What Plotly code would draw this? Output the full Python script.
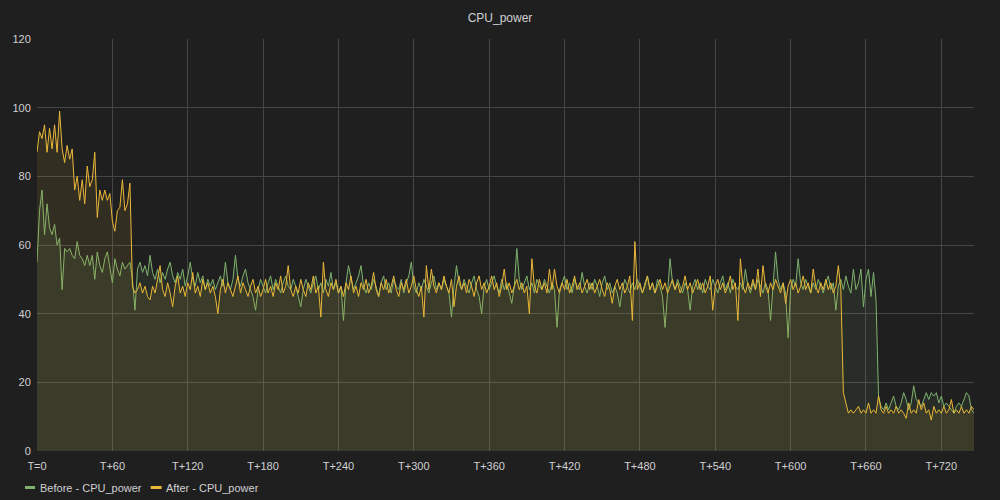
import plotly.graph_objects as go

# time axis: one sample every 2 s, T=0 .. T+746
t = list(range(0, 748, 2))

before = [
    55, 70, 76, 63, 72, 65, 63, 66, 60, 62,
    47, 59, 58, 59, 57, 56, 61, 57, 56, 54,
    57, 54, 57, 50, 58, 54, 52, 56, 58, 53,
    49, 56, 53, 51, 55, 53, 54, 55, 50, 41,
    53, 55, 52, 54, 51, 57, 52, 50, 53, 49,
    52, 50, 53, 55, 51, 49, 52, 50, 53, 48,
    51, 55, 50, 48, 52, 49, 51, 47, 50, 48,
    50, 47, 49, 51, 48, 55, 49, 47, 50, 57,
    50, 48, 51, 53, 49, 47, 45, 41, 47, 50,
    48, 46, 49, 51, 47, 50, 48, 46, 49, 51,
    48, 47, 50, 48, 45, 42, 47, 50, 48, 46,
    49, 51, 47, 49, 46, 50, 48, 52, 47, 49,
    46, 48, 38, 49, 54, 50, 47, 49, 51, 54,
    48, 46, 49, 47, 50, 48, 45, 49, 51, 47,
    49, 46, 50, 48, 47, 50, 46, 49, 51, 55,
    48, 46, 49, 47, 50, 48, 46, 49, 51, 47,
    49, 47, 50, 48, 46, 39, 48, 54, 49, 47,
    50, 48, 46, 49, 51, 47, 45, 40, 48, 50,
    47, 49, 51, 48, 46, 50, 47, 49, 46, 43,
    48, 59, 50, 47, 49, 51, 47, 49, 46, 50,
    48, 47, 50, 48, 46, 49, 47, 36, 47, 49,
    51, 47, 49, 46, 50, 48, 47, 52, 48, 46,
    49, 47, 50, 48, 45, 49, 51, 47, 49, 46,
    48, 46, 42, 47, 50, 48, 46, 49, 47, 50,
    48, 46, 49, 51, 47, 49, 46, 50, 48, 45,
    36, 47, 56, 49, 47, 50, 48, 46, 49, 47,
    41, 48, 50, 47, 49, 46, 50, 48, 47, 50,
    48, 46, 49, 51, 47, 49, 46, 50, 48, 47,
    49, 47, 53, 48, 46, 49, 47, 50, 48, 46,
    49, 47, 38, 49, 58, 50, 47, 49, 46, 33,
    47, 50, 48, 56, 49, 47, 50, 48, 46, 49,
    47, 50, 48, 46, 49, 51, 47, 49, 41, 48,
    50, 47, 51, 48, 46, 53, 47, 49, 53, 42,
    50, 53, 45, 52, 44, 16, 13, 12, 14, 12,
    14, 16, 13, 12, 14, 17, 15, 12, 14, 19,
    15, 14, 13, 15, 17, 15, 17, 16, 17, 14,
    16, 13, 14, 13, 12, 11, 13, 14, 13, 15,
    17, 16, 12, 11,
]

after = [
    87, 93, 91, 95, 87, 94, 88, 95, 87, 99,
    88, 84, 89, 85, 88, 76, 80, 73, 79, 72,
    83, 77, 79, 87, 68, 76, 73, 76, 73, 75,
    67, 64, 70, 71, 79, 70, 72, 78, 48, 46,
    47, 49, 46, 48, 45, 44, 48, 46, 50, 54,
    47, 45, 49, 46, 42, 48, 51, 46, 48, 45,
    49, 47, 52, 46, 48, 45, 50, 47, 49, 46,
    48, 45, 40, 47, 50, 46, 49, 47, 45, 48,
    51, 46, 49, 47, 45, 48, 50, 46, 48, 45,
    47, 50, 46, 48, 45, 49, 47, 51, 46, 48,
    54, 47, 45, 48, 46, 50, 47, 45, 49, 47,
    51, 46, 48, 39, 55, 47, 45, 49, 47, 50,
    46, 48, 45, 49, 47, 51, 46, 48, 45, 49,
    47, 50, 46, 48, 52, 47, 45, 49, 47, 50,
    46, 48, 51, 47, 45, 49, 47, 50, 46, 48,
    51, 47, 45, 48, 39, 54, 47, 53, 48, 46,
    49, 47, 51, 48, 46, 50, 42, 48, 51, 47,
    49, 46, 50, 48, 45, 49, 51, 47, 49, 46,
    48, 51, 47, 49, 45, 48, 53, 47, 49, 46,
    48, 50, 47, 49, 46, 48, 40, 56, 48, 46,
    50, 47, 49, 46, 53, 47, 53, 48, 46, 49,
    47, 50, 46, 48, 51, 47, 49, 46, 48, 50,
    47, 49, 46, 48, 50, 47, 45, 49, 47, 43,
    48, 50, 47, 49, 46, 48, 51, 38, 61, 47,
    49, 46, 48, 51, 47, 49, 46, 48, 50, 47,
    49, 46, 48, 50, 47, 49, 46, 48, 51, 47,
    49, 46, 48, 50, 47, 49, 46, 48, 51, 41,
    48, 50, 47, 49, 46, 48, 51, 47, 49, 38,
    56, 48, 46, 49, 47, 50, 47, 53, 45, 54,
    48, 46, 49, 47, 50, 48, 46, 49, 43, 48,
    50, 47, 49, 46, 48, 51, 47, 49, 46, 53,
    48, 46, 49, 47, 50, 47, 49, 46, 48, 54,
    47, 17, 14, 11, 12, 11, 12, 13, 11, 12,
    11, 14, 11, 12, 11, 16, 12, 11, 13, 11,
    12, 11, 13, 11, 12, 11, 9.5, 14, 11, 12,
    11, 15, 12, 14, 11, 12, 9, 13, 11, 12,
    11, 13, 11, 12, 15, 11, 12, 11, 13, 11,
    12, 11, 13, 12,
]

series_names = ["Before - CPU_power", "After - CPU_power"]

tick_vals = list(range(0, 721, 60))
tick_text = ["T=0"] + ["T+%d" % v for v in tick_vals[1:]]

GREEN = "#7eb26d"
YELLOW = "#eab839"
BG = "#1f1f20"
GRID = "#464648"
TXT = "#d0d0d2"

fig = go.Figure()
fig.add_trace(go.Scatter(
    x=t, y=before, name=series_names[0], mode="lines",
    line=dict(color=GREEN, width=1),
    fill="tozeroy", fillcolor="rgba(126,178,109,0.1)",
    showlegend=False,
))
fig.add_trace(go.Scatter(
    x=t, y=after, name=series_names[1], mode="lines",
    line=dict(color=YELLOW, width=1),
    fill="tozeroy", fillcolor="rgba(234,184,57,0.1)",
    showlegend=False,
))

# grafana-like legend: short thick colour bar + label, below the plot
legend_items = [(series_names[0], GREEN, -0.0128, -0.0021, 0.0011),
                (series_names[1], YELLOW, 0.1213, 0.1330, 0.1351)]
for name, col, x0, x1, xt in legend_items:
    fig.add_shape(type="rect", xref="paper", yref="paper",
                  x0=x0, x1=x1, y0=-0.0850, y1=-0.0922,
                  fillcolor=col, line=dict(width=0))
    fig.add_annotation(text=name, xref="paper", yref="paper",
                       x=xt, y=-0.0886, xanchor="left", yanchor="middle",
                       showarrow=False, font=dict(size=11, color=TXT))

fig.update_layout(
    width=1000, height=500,
    paper_bgcolor=BG, plot_bgcolor=BG,
    margin=dict(l=34, r=26, t=39, b=49),
    font=dict(family="Liberation Sans, Arial, sans-serif", size=11, color=TXT),
    title=dict(text="CPU_power", x=0.5, xanchor="center",
               yref="container", y=0.964, yanchor="middle",
               font=dict(size=12, color=TXT)),
    hovermode="x",
)
fig.update_xaxes(
    range=[0, 746], tickvals=tick_vals, ticktext=tick_text,
    showgrid=True, gridcolor=GRID, gridwidth=1,
    zeroline=False, showline=False,
    ticks="outside", ticklen=5, tickcolor=BG,
    tickfont=dict(size=11, color=TXT),
)
fig.update_yaxes(
    range=[0, 120], dtick=20,
    showgrid=True, gridcolor=GRID, gridwidth=1,
    zeroline=False, showline=False,
    ticks="outside", ticklen=3, tickcolor=BG,
    tickfont=dict(size=11, color=TXT),
)

fig.write_html("out.html", config={"displayModeBar": False},
               post_script="document.body.style.margin='0';")
